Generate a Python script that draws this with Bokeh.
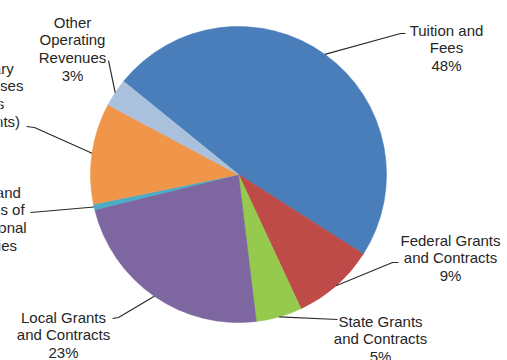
import math
from bokeh.plotting import figure
from bokeh.models import Range1d, ColumnDataSource
from bokeh.core.properties import value
from bokeh.embed import file_html
from bokeh.resources import INLINE

# ---- data ----
categories = [
    "Tuition and Fees",
    "Federal Grants and Contracts",
    "State Grants and Contracts",
    "Local Grants and Contracts",
    "Sales and Services of Educational Activities",
    "Auxiliary Enterprises",
    "Other Operating Revenues",
]
shares = [48, 9, 5, 23, 0.6, 11, 3]
pct_labels = ["48%", "9%", "5%", "23%", "0%", "11%", "3%"]
label_lines = [
    "Tuition and\nFees",
    "Federal Grants\nand Contracts",
    "State Grants\nand Contracts",
    "Local Grants\nand Contracts",
    "Sales and\nServices of\nEducational\nActivities",
    "Auxiliary\nEnterprises\nSales\n(Students)",
    "Other\nOperating\nRevenues",
]
colors = ["#4A7EBB", "#BE4B48", "#96CA4E", "#7E66A0", "#4BACC6", "#F0964A", "#A9C1DD"]

# ---- layout / style ----
W, H = 507, 360
CX, CY_PX, R = 238, 174, 148
START_COMPASS = 309.0  # first slice starts here (deg, clockwise from 12 o'clock)

def py(y):  # pixel row -> data y (y up)
    return H - y

CY = py(CY_PX)

# label block anchor (center x, top y in pixels)
label_pos = [(446, 21), (450, 231), (380, 312), (63, 308), (-13, 183), (-15, 59), (72, 13)]
# leader line bend/end points (pixels), after the pie-edge anchor
leader_tail = [
    [(400, 33), (405, 33)],
    [(392, 262), (398, 262)],
    [(337, 319)],
    [(118, 317), (112, 318)],
    [(30, 212)],
    [(34, 127), (26, 126)],
    [(108, 60)],
]

total = float(sum(shares))
start_math = math.radians(90 - START_COMPASS)
starts, ends, mids = [], [], []
a = start_math
for s in shares:
    span = 2 * math.pi * s / total
    starts.append(a)
    ends.append(a - span)
    mids.append(a - span / 2)
    a -= span

p = figure(width=W, height=H, x_range=Range1d(0, W), y_range=Range1d(0, H),
           output_backend="svg", toolbar_location=None, min_border=0)
p.axis.visible = False
p.grid.visible = False
p.outline_line_color = None
p.background_fill_color = "white"
p.border_fill_color = "white"

src = ColumnDataSource(dict(cat=categories, start=starts, end=ends, color=colors))
p.wedge(x=CX, y=CY, radius=R, start_angle="start", end_angle="end", direction="clock",
        fill_color="color", line_color="color", line_width=0.6, source=src)

# leader lines
xs, ys = [], []
for m, tail in zip(mids, leader_tail):
    ax = CX + R * math.cos(m)
    ay = CY + R * math.sin(m)
    lx = [ax] + [t[0] for t in tail]
    ly = [ay] + [py(t[1]) for t in tail]
    xs.append(lx)
    ys.append(ly)
p.multi_line(xs=xs, ys=ys, line_color="#2b2b2b", line_width=1.2)

texts = [f"{l}\n{pc}" for l, pc in zip(label_lines, pct_labels)]
tsrc = ColumnDataSource(dict(x=[lp[0] for lp in label_pos], y=[py(lp[1]) for lp in label_pos], t=texts))
p.text(x="x", y="y", text="t", source=tsrc, text_align="center", text_baseline="top",
       text_font=value("Liberation Sans"), text_font_size="15px", text_line_height=1.04,
       text_color="#262626")

open("out.html", "w").write(file_html(p, INLINE))
